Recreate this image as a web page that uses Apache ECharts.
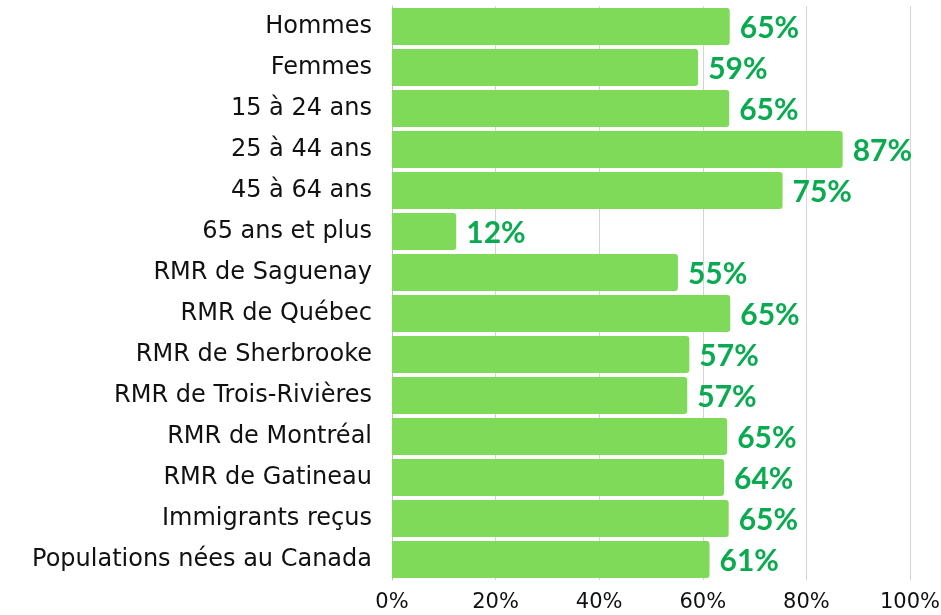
<!DOCTYPE html>
<html>
<head>
<meta charset="utf-8">
<script src="https://cdn.jsdelivr.net/npm/echarts@6/dist/echarts.min.js"></script>
<style>html,body{margin:0;padding:0;background:#fff}#c{width:941px;height:615px}</style>
</head>
<body>
<div id="c"></div>
<script>
var categories = ["Hommes","Femmes","15 à 24 ans","25 à 44 ans","45 à 64 ans","65 ans et plus","RMR de Saguenay","RMR de Québec","RMR de Sherbrooke","RMR de Trois-Rivières","RMR de Montréal","RMR de Gatineau","Immigrants reçus","Populations nées au Canada"];
var values = [65.2, 59.1, 65.1, 87.0, 75.4, 12.4, 55.2, 65.3, 57.4, 57.0, 64.7, 64.1, 65.0, 61.3];
var xTicks = [0, 20, 40, 60, 80, 100];

var chart = echarts.init(document.getElementById('c'));
chart.setOption({
  animation: false,
  grid: {left: 392, right: 31, top: 6, bottom: 35, containLabel: false, outerBoundsMode: 'none'},
  xAxis: {
    type: 'value', min: xTicks[0], max: xTicks[xTicks.length - 1], interval: xTicks[1] - xTicks[0],
    axisLine: {show: false}, axisTick: {show: false},
    splitLine: {show: true, lineStyle: {color: '#d4d4d4', width: 1}},
    axisLabel: {formatter: function(v){return v + '%';}, color: '#111', fontFamily: 'DejaVu Sans', fontSize: 21, margin: 12}
  },
  yAxis: {
    type: 'category', data: categories, inverse: true,
    axisLine: {show: true, lineStyle: {color: '#bfbfbf', width: 1}},
    axisTick: {show: false},
    axisLabel: {color: '#111', fontFamily: 'DejaVu Sans', fontSize: 24, margin: 20}
  },
  series: [{
    type: 'bar', data: values, barCategoryGap: '10%',
    itemStyle: {color: '#80da5a', borderRadius: [0, 3, 3, 0]},
    label: {show: true, position: 'right', distance: 10, formatter: function(p){return Math.round(p.value) + '%';},
      color: '#0aab50', fontFamily: 'Lato', fontWeight: 'bold', fontSize: 30, offset: [0, 2]}
  }]
});
</script>
</body>
</html>
